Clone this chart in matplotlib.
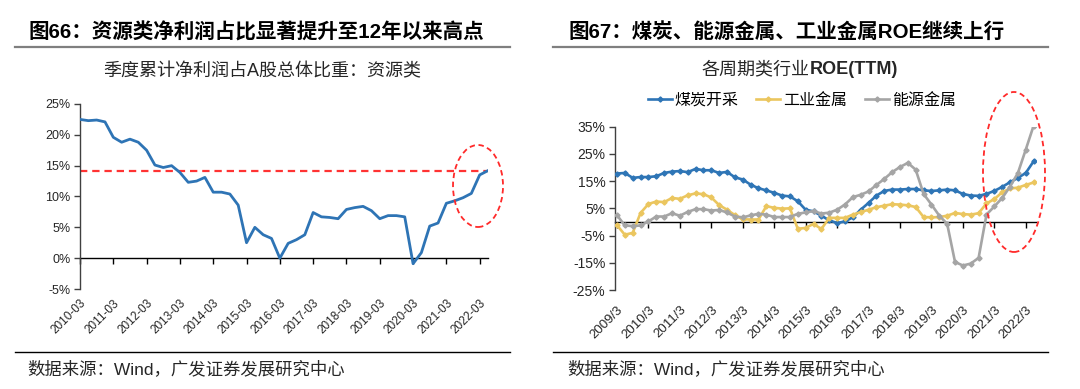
import matplotlib
matplotlib.use('Agg')
import matplotlib.pyplot as plt
from matplotlib.patches import Ellipse
from matplotlib.lines import Line2D
import numpy as np

FONTS = ['Liberation Sans', 'Noto Sans CJK SC', 'DejaVu Sans']
plt.rcParams['font.family'] = FONTS
plt.rcParams['axes.unicode_minus'] = False

# ---------------- data: left panel (quarterly, 2010-03 .. 2022-06) ----------------
left_tick_labels = ['2010-03', '2011-03', '2012-03', '2013-03', '2014-03', '2015-03',
                    '2016-03', '2017-03', '2018-03', '2019-03', '2020-03', '2021-03', '2022-03']
left_share = [22.5, 22.3, 22.4, 22.1, 19.6, 18.8, 19.3, 18.8, 17.5, 15.1,
              14.7, 15.0, 13.9, 12.3, 12.5, 13.1, 10.7, 10.7, 10.4, 8.6,
              2.5, 5.0, 3.8, 3.2, 0.0, 2.4, 3.0, 3.8, 7.4, 6.7,
              6.6, 6.4, 7.9, 8.2, 8.4, 7.7, 6.4, 6.9, 6.9, 6.7,
              -0.9, 0.9, 5.2, 5.7, 8.9, 9.3, 9.8, 10.5, 13.5, 14.2]
left_reference = 14.1

# ---------------- data: right panel (quarterly, 2009/3 .. 2022/6) ----------------
right_tick_labels = ['2009/3', '2010/3', '2011/3', '2012/3', '2013/3', '2014/3', '2015/3',
                     '2016/3', '2017/3', '2018/3', '2019/3', '2020/3', '2021/3', '2022/3']
series_names = ['煤炭开采', '工业金属', '能源金属']
coal = [17.8, 18.0, 16.2, 16.5, 16.5, 16.8, 18.0, 18.5, 18.7, 18.3,
        19.5, 19.0, 19.0, 18.0, 18.4, 16.4, 15.6, 13.7, 12.4, 11.6,
        10.7, 9.7, 9.4, 7.6, 4.5, 3.9, 2.3, 0.6, -0.4, 0.2,
        1.7, 4.5, 7.0, 9.7, 11.4, 11.9, 11.9, 12.1, 12.1, 11.6,
        11.4, 11.6, 11.9, 11.6, 10.3, 9.7, 9.6, 10.3, 11.4, 12.9,
        14.6, 16.2, 18.0, 22.3]
industrial = [-1.2, -4.7, -4.0, 3.3, 6.6, 7.5, 7.3, 8.8, 8.5, 9.8,
              10.5, 10.2, 9.0, 6.2, 4.5, 2.5, 1.0, 0.9, 0.9, 5.8,
              5.2, 4.9, 5.0, -2.5, -2.2, -0.7, -2.6, 1.5, 1.5, 1.5,
              2.7, 3.6, 4.5, 5.4, 6.0, 6.5, 6.4, 6.1, 5.5, 1.8,
              1.7, 1.8, 2.3, 3.3, 2.9, 2.7, 3.2, 6.8, 8.4, 10.9,
              12.3, 12.6, 13.6, 14.5]
energy = [2.5, -1.3, -1.5, -1.3, 0.2, 2.0, 2.0, 3.2, 2.3, 3.7,
          4.7, 4.7, 4.2, 4.4, 3.5, 2.0, 1.7, 2.4, 3.0, 2.7,
          1.8, 1.8, 1.8, 3.0, 3.5, 4.0, 3.1, 3.4, 4.5, 6.4,
          9.1, 10.0, 11.2, 13.6, 15.8, 18.3, 20.2, 21.7, 19.2, 10.3,
          6.4, 2.3, -0.7, -14.7, -16.0, -15.3, -13.2, 2.7, 5.7, 8.8,
          13.0, 18.0, 26.6, 35.4]
colors = ['#2E75B6', '#EBC65F', '#A5A5A5']

W, H = 1080, 389
fig = plt.figure(figsize=(W / 100, H / 100), dpi=100)
fig.patch.set_facecolor('white')

def fx(px):
    return px / W

def fy(py):
    return 1 - py / H

TXT = '#262626'

def style_axes(ax, ymin, ymax, yticks, ylabels, xticks, xlabels, ysize, xsize, xpad):
    ax.set_ylim(ymin, ymax)
    ax.set_yticks(yticks)
    ax.set_yticklabels(ylabels, fontsize=ysize, color=TXT)
    ax.set_xticks(xticks)
    ax.set_xticklabels(xlabels, fontsize=xsize, color=TXT, rotation=45,
                       ha='right', rotation_mode='anchor')
    ax.tick_params(axis='x', length=0, pad=xpad)
    ax.tick_params(axis='y', direction='out', length=4, width=1, color='#404040', pad=3)
    for s in ['top', 'right', 'bottom']:
        ax.spines[s].set_visible(False)
    ax.spines['left'].set_color('#404040')
    ax.spines['left'].set_linewidth(1.0)
    frac = (0 - ymin) / (ymax - ymin)
    sec = ax.secondary_xaxis(frac)
    sec.set_xticks(xticks)
    sec.tick_params(axis='x', direction='out', length=4, width=1, color='black',
                    labelbottom=False, labeltop=False)
    for s in sec.spines.values():
        s.set_color('black')
        s.set_linewidth(1.0)

# ---------------- left panel ----------------
axL = fig.add_axes([fx(80), fy(289), fx(408), (289 - 104) / H])
xl = np.arange(len(left_share))
axL.plot(xl, left_share, color='#2E74B5', lw=2.0, zorder=3)
axL.axhline(left_reference, color='#FF3333', lw=1.6, linestyle=(0, (3.3, 2.2)), zorder=2)
axL.set_xlim(0, len(left_share) - 1)
style_axes(axL, -5, 25, [-5, 0, 5, 10, 15, 20, 25],
           ['-5%', '0%', '5%', '10%', '15%', '20%', '25%'],
           np.arange(0, len(left_share), 4), left_tick_labels, 9, 8.5, 6)

# ---------------- right panel ----------------
axR = fig.add_axes([fx(615), fy(290), fx(421), (290 - 126.7) / H])
xr = np.arange(len(coal))
for vals, c in zip([coal, industrial, energy], colors):
    axR.plot(xr, vals, color=c, lw=1.9, marker='D', markersize=2.6, zorder=3)
axR.set_xlim(-0.25, 53.3)
style_axes(axR, -25, 35, [-25, -15, -5, 5, 15, 25, 35],
           ['-25%', '-15%', '-5%', '5%', '15%', '25%', '35%'],
           np.arange(0, len(coal), 4), right_tick_labels, 10, 9.5, 10)

handles = [Line2D([0], [0], color=c, lw=1.9, marker='D', markersize=2.6) for c in colors]
fig.legend(handles, series_names, loc='center', bbox_to_anchor=(fx(802), fy(100)),
           ncol=3, frameon=False, handlelength=1.5, handletextpad=0.2,
           columnspacing=1.1, prop={'family': ['Noto Sans CJK SC'], 'size': 11.5})

# ---------------- titles, rules, sources ----------------
fig.text(fx(28), fy(32), '图66：资源类净利润占比显著提升至12年以来高点', fontsize=14.8,
         fontweight='bold', va='center', ha='left', color='black')
fig.text(fx(568), fy(32), '图67：煤炭、能源金属、工业金属ROE继续上行', fontsize=14.8,
         fontweight='bold', va='center', ha='left', color='black')
fig.add_artist(Line2D([fx(15), fx(510)], [fy(47), fy(47)], color='#7F7F7F', lw=1.6))
fig.add_artist(Line2D([fx(553), fx(1048)], [fy(47), fy(47)], color='#7F7F7F', lw=1.6))
fig.add_artist(Line2D([fx(15), fx(510)], [fy(352), fy(352)], color='black', lw=1.0))
fig.add_artist(Line2D([fx(553), fx(1048)], [fy(352), fy(352)], color='black', lw=1.0))

fig.text(fx(262), fy(72), '季度累计净利润占A股总体比重：资源类', fontsize=13,
         ha='center', va='center', color=TXT)
fig.text(fx(810), fy(70), '各周期类行业', fontsize=13, ha='right', va='center', color=TXT)
fig.text(fx(810), fy(70), 'ROE(TTM)', fontsize=13, fontweight='bold', ha='left',
         va='center', color=TXT)

fig.text(fx(27), fy(369), '数据来源：Wind，广发证券发展研究中心', fontsize=12.5,
         ha='left', va='center', color=TXT)
fig.text(fx(567), fy(369), '数据来源：Wind，广发证券发展研究中心', fontsize=12.5,
         ha='left', va='center', color=TXT)

# ---------------- highlight ellipses ----------------
fig.add_artist(Ellipse((fx(478), fy(186)), fx(50), 82 / H, fill=False,
                       edgecolor='#FF2A2A', lw=1.3, linestyle=(0, (3, 2))))
fig.add_artist(Ellipse((fx(1014), fy(172)), fx(62), 160 / H, fill=False,
                       edgecolor='#FF2A2A', lw=1.3, linestyle=(0, (3, 2))))

fig.savefig('out.png', dpi=100, facecolor='white')
